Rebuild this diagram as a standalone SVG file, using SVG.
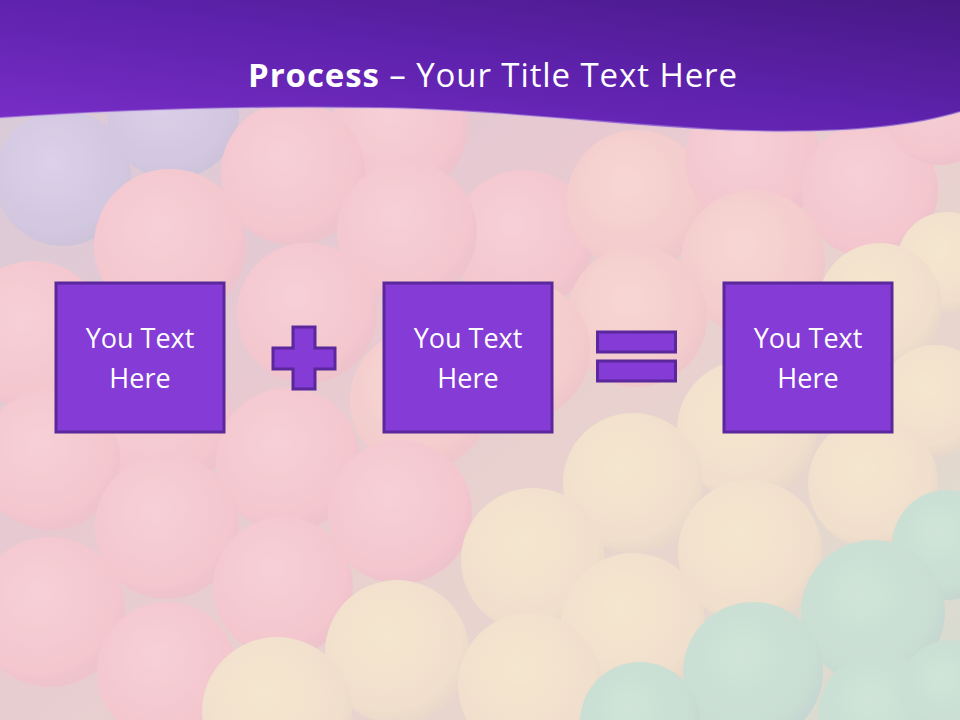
<svg xmlns="http://www.w3.org/2000/svg" width="960" height="720" viewBox="0 0 960 720">
<defs>
<linearGradient id="bg" x1="0" y1="0" x2="1" y2="1">
<stop offset="0" stop-color="#cfc6d6"/>
<stop offset="0.4" stop-color="#e6c4cc"/>
<stop offset="0.75" stop-color="#e6d4c8"/>
<stop offset="1" stop-color="#cfdccd"/>
</linearGradient>
<radialGradient id="pk" cx="0.42" cy="0.38" r="0.62"><stop offset="0" stop-color="#f8ccd3"/><stop offset="0.85" stop-color="#f4c0c8"/><stop offset="1" stop-color="#eebcc6"/></radialGradient>
<radialGradient id="pc" cx="0.42" cy="0.38" r="0.62"><stop offset="0" stop-color="#f8d4cf"/><stop offset="0.85" stop-color="#f4c6c6"/><stop offset="1" stop-color="#eec0c4"/></radialGradient>
<radialGradient id="lv" cx="0.42" cy="0.38" r="0.62"><stop offset="0" stop-color="#d8cdea"/><stop offset="0.85" stop-color="#cbc1de"/><stop offset="1" stop-color="#c6bdd6"/></radialGradient>
<radialGradient id="yl" cx="0.42" cy="0.38" r="0.62"><stop offset="0" stop-color="#f6e8ca"/><stop offset="0.85" stop-color="#f0dec6"/><stop offset="1" stop-color="#e8d6c4"/></radialGradient>
<radialGradient id="gr" cx="0.42" cy="0.38" r="0.62"><stop offset="0" stop-color="#c8e6d4"/><stop offset="0.85" stop-color="#c0dccf"/><stop offset="1" stop-color="#bcd4cc"/></radialGradient>
<linearGradient id="hd" x1="0" y1="1" x2="1" y2="0">
<stop offset="0" stop-color="#7a2fc8"/>
<stop offset="0.5" stop-color="#5f22ae"/>
<stop offset="1" stop-color="#471985"/>
</linearGradient>
<style>
.box{fill:#853bd5;stroke:#5b279c;stroke-width:3}
.op{fill:#853bd5;stroke:#5b279c;stroke-width:3}
.lbl{font-family:"Open Sans","Liberation Sans",sans-serif;font-size:27px;fill:#ffffff;text-anchor:middle}
.ttl{font-family:"Open Sans","Liberation Sans",sans-serif;font-size:33px;fill:#ffffff}
</style>
</defs>

<g id="background">
<rect x="0" y="0" width="960" height="720" fill="url(#bg)"/>
<circle cx="63" cy="178" r="68" fill="url(#lv)"/>
<circle cx="173" cy="113" r="66" fill="url(#lv)"/>
<circle cx="400" cy="127" r="68" fill="url(#pk)"/>
<circle cx="293" cy="173" r="72" fill="url(#pk)"/>
<circle cx="170" cy="245" r="76" fill="url(#pk)"/>
<circle cx="523" cy="240" r="70" fill="url(#pk)"/>
<circle cx="407" cy="232" r="70" fill="url(#pk)"/>
<circle cx="637" cy="200" r="70" fill="url(#pc)"/>
<circle cx="753" cy="160" r="68" fill="url(#pk)"/>
<circle cx="870" cy="190" r="68" fill="url(#pk)"/>
<circle cx="940" cy="110" r="55" fill="url(#pk)"/>
<circle cx="947" cy="262" r="50" fill="url(#yl)"/>
<circle cx="753" cy="262" r="72" fill="url(#pc)"/>
<circle cx="880" cy="305" r="62" fill="url(#yl)"/>
<circle cx="33" cy="335" r="74" fill="url(#pk)"/>
<circle cx="307" cy="313" r="70" fill="url(#pk)"/>
<circle cx="637" cy="317" r="70" fill="url(#pc)"/>
<circle cx="520" cy="350" r="70" fill="url(#pc)"/>
<circle cx="420" cy="400" r="70" fill="url(#pc)"/>
<circle cx="160" cy="420" r="72" fill="url(#pk)"/>
<circle cx="50" cy="460" r="70" fill="url(#pk)"/>
<circle cx="288" cy="460" r="72" fill="url(#pk)"/>
<circle cx="747" cy="430" r="70" fill="url(#yl)"/>
<circle cx="935" cy="400" r="55" fill="url(#yl)"/>
<circle cx="873" cy="483" r="65" fill="url(#yl)"/>
<circle cx="400" cy="512" r="72" fill="url(#pk)"/>
<circle cx="167" cy="527" r="72" fill="url(#pk)"/>
<circle cx="633" cy="483" r="70" fill="url(#yl)"/>
<circle cx="947" cy="545" r="55" fill="url(#gr)"/>
<circle cx="533" cy="560" r="72" fill="url(#yl)"/>
<circle cx="750" cy="552" r="72" fill="url(#yl)"/>
<circle cx="283" cy="587" r="70" fill="url(#pk)"/>
<circle cx="50" cy="612" r="75" fill="url(#pk)"/>
<circle cx="873" cy="612" r="72" fill="url(#gr)"/>
<circle cx="397" cy="652" r="72" fill="url(#yl)"/>
<circle cx="633" cy="625" r="72" fill="url(#yl)"/>
<circle cx="167" cy="672" r="70" fill="url(#pk)"/>
<circle cx="530" cy="685" r="72" fill="url(#yl)"/>
<circle cx="753" cy="672" r="70" fill="url(#gr)"/>
<circle cx="277" cy="712" r="75" fill="url(#yl)"/>
<circle cx="640" cy="722" r="60" fill="url(#gr)"/>
<circle cx="880" cy="715" r="62" fill="url(#gr)"/>
<circle cx="950" cy="690" r="50" fill="url(#gr)"/>
<rect x="0" y="0" width="960" height="720" fill="#f6e6ea" fill-opacity="0.18"/>
</g>

<g id="header">
<path d="M0,0 H960 V112 C900,130 820,134 720,130 C600,124 500,110 380,108 C250,106 120,110 0,118 Z" fill="url(#hd)"/>
<path d="M0,118 C120,110 250,106 380,108 C500,110 600,124 720,130 C820,134 900,130 960,112" fill="none" stroke="#c9b4ec" stroke-opacity="0.45" stroke-width="2"/>
<text class="ttl" x="248" y="87" textLength="489" lengthAdjust="spacing"><tspan font-weight="bold">Process</tspan> – Your Title Text Here</text>
</g>

<g id="node1">
<rect class="box" x="56" y="283" width="168" height="149"/>
<text class="lbl" x="140" y="348">You Text</text>
<text class="lbl" x="140" y="388">Here</text>
</g>

<g id="plus">
<path class="op" d="M293,327 H315 V348 H335 V369 H315 V389 H293 V369 H273 V348 H293 Z"/>
</g>

<g id="node2">
<rect class="box" x="384" y="283" width="168" height="149"/>
<text class="lbl" x="468" y="348">You Text</text>
<text class="lbl" x="468" y="388">Here</text>
</g>

<g id="equals">
<rect class="op" x="597.5" y="332" width="78" height="20"/>
<rect class="op" x="597.5" y="361" width="78" height="20"/>
</g>

<g id="node3">
<rect class="box" x="724" y="283" width="168" height="149"/>
<text class="lbl" x="808" y="348">You Text</text>
<text class="lbl" x="808" y="388">Here</text>
</g>

<g id="connectors"></g>
</svg>
